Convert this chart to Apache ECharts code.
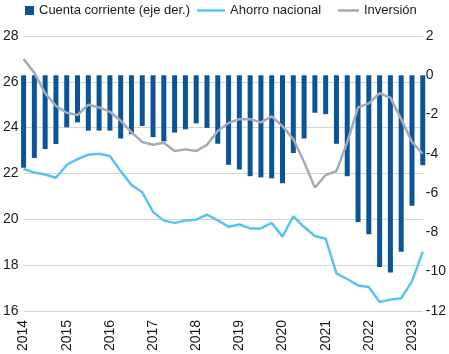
<!DOCTYPE html>
<html>
<head>
<meta charset="utf-8">
<script src="https://cdn.jsdelivr.net/npm/echarts@6/dist/echarts.min.js"></script>
<style>
  html, body { margin: 0; padding: 0; background: #fff; }
  #chart { width: 449px; height: 354px; }
</style>
</head>
<body>
<div id="chart"></div>
<script>
// trimestres 2014T1 - 2023T2
var quarters = [];
for (var y = 2014; y <= 2023; y++) {
    for (var q = 1; q <= 4; q++) {
        if (y === 2023 && q > 2) break;
        quarters.push(y + 'T' + q);
    }
}

// cuenta corriente (eje der.)
var cuentaCorriente = [
    -4.71, -4.21, -3.76, -3.50, -2.65, -2.40, -2.82, -2.82, -2.82, -3.22,
    -3.00, -2.58, -3.15, -3.37, -2.92, -2.75, -2.45, -2.68, -3.49, -4.56,
    -4.80, -5.14, -5.20, -5.25, -5.50, -3.96, -3.22, -1.91, -1.98, -3.49,
    -5.14, -7.48, -8.10, -9.77, -10.04, -8.99, -6.64, -4.58
];

// ahorro nacional
var ahorroNacional = [
    22.20, 22.04, 21.95, 21.81, 22.37, 22.62, 22.82, 22.86, 22.76, 22.10,
    21.50, 21.18, 20.32, 19.94, 19.84, 19.94, 19.98, 20.20, 19.95, 19.67,
    19.77, 19.60, 19.60, 19.84, 19.24, 20.13, 19.66, 19.27, 19.15, 17.64,
    17.39, 17.11, 17.04, 16.39, 16.49, 16.55, 17.29, 18.58
];

// inversion
var inversion = [
    27.00, 26.39, 25.50, 24.95, 24.65, 24.55, 25.00, 24.88, 24.69, 24.30,
    23.80, 23.37, 23.25, 23.34, 22.98, 23.05, 22.98, 23.25, 23.85, 24.20,
    24.37, 24.37, 24.23, 24.49, 24.06, 23.50, 22.50, 21.38, 21.93, 22.10,
    23.37, 24.88, 25.06, 25.50, 25.31, 24.37, 23.37, 22.86
];

var leftTicks = { min: 16, max: 28, step: 2 };
var rightTicks = { min: -12, max: 2, step: 2 };

var fontName = "'Liberation Sans', sans-serif";
var textColor = '#1a1a1a';
var legendText = { fontFamily: fontName, fontSize: 13, color: textColor };

var chart = echarts.init(document.getElementById('chart'));

var option = {
    animation: false,
    textStyle: { fontFamily: fontName },
    legend: [
        {
            data: [{ name: 'Cuenta corriente (eje der.)', icon: 'rect' }],
            left: 25, top: 4, padding: 0,
            itemWidth: 9, itemHeight: 9,
            textStyle: legendText
        },
        {
            data: [{ name: 'Ahorro nacional', icon: 'rect' }],
            left: 197, top: 4, padding: 0,
            itemWidth: 28, itemHeight: 2.5,
            textStyle: legendText
        },
        {
            data: [{ name: 'Inversión', icon: 'rect' }],
            left: 338, top: 4, padding: 0,
            itemWidth: 21, itemHeight: 2.5,
            textStyle: legendText
        }
    ],
    grid: { left: 21, right: 26, top: 36, bottom: 41, containLabel: false },
    xAxis: {
        type: 'category',
        data: quarters,
        boundaryGap: false,
        axisLine: { show: false },
        axisTick: { show: false },
        axisLabel: {
            rotate: 90,
            margin: 9,
            fontSize: 14,
            color: textColor,
            fontFamily: fontName,
            interval: function (index) { return index % 4 === 0; },
            formatter: function (v) { return v.slice(0, 4); }
        }
    },
    yAxis: [
        {
            type: 'value',
            min: leftTicks.min, max: leftTicks.max, interval: leftTicks.step,
            axisLine: { show: false },
            axisTick: { show: false },
            axisLabel: { margin: 5, fontSize: 14, color: textColor, fontFamily: fontName },
            splitLine: { lineStyle: { color: '#d4d4d4', width: 1 } }
        },
        {
            type: 'value',
            position: 'right',
            min: rightTicks.min, max: rightTicks.max, interval: rightTicks.step,
            axisLine: { show: false },
            axisTick: { show: false },
            axisLabel: { margin: 3, fontSize: 14, color: textColor, fontFamily: fontName },
            splitLine: { show: false }
        }
    ],
    series: [
        {
            name: 'Cuenta corriente (eje der.)',
            type: 'bar',
            yAxisIndex: 1,
            barWidth: 5,
            itemStyle: { color: '#0b5596' },
            data: cuentaCorriente
        },
        {
            name: 'Ahorro nacional',
            type: 'line',
            symbol: 'none',
            itemStyle: { color: '#5bc3f0' },
            lineStyle: { color: '#5bc3f0', width: 2.5 },
            data: ahorroNacional
        },
        {
            name: 'Inversión',
            type: 'line',
            symbol: 'none',
            itemStyle: { color: '#a6a9b7' },
            lineStyle: { color: '#a6a9b7', width: 2.5 },
            data: inversion
        }
    ]
};

chart.setOption(option);
</script>
</body>
</html>
